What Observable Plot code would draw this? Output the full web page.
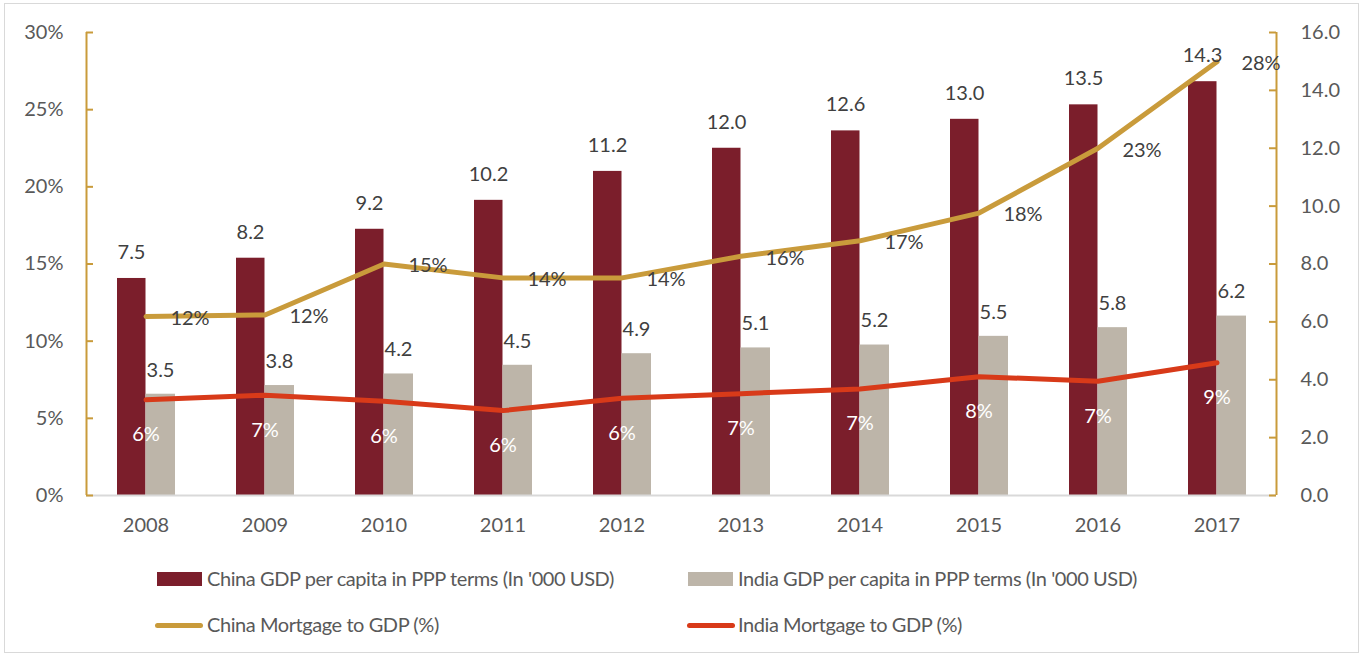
<!DOCTYPE html>
<html><head><meta charset="utf-8">
<script src="https://cdn.jsdelivr.net/npm/d3@7"></script>
<script src="https://cdn.jsdelivr.net/npm/@observablehq/plot@0.6"></script>
<style>
body{margin:0;background:#fff;font-family:Lato,sans-serif;}
#wrap{position:relative;width:1362px;height:656px;overflow:hidden;background:#fff}
#border{position:absolute;left:4px;top:3px;width:1355px;height:650px;border:1.5px solid #d9d9d9;box-sizing:border-box;pointer-events:none}
#chart{position:absolute;left:0;top:0}
.lg{position:absolute;font-family:Lato,sans-serif;font-size:20px;letter-spacing:-0.43px;color:#595959;white-space:nowrap;line-height:20px}
.sw{position:absolute}
</style></head>
<body>
<div id="wrap">
  <div id="chart"></div>
  <div id="legend"></div>
  <div id="border"></div>
</div>
<script>
const years = ["2008","2009","2010","2011","2012","2013","2014","2015","2016","2017"];
const chinaGdp = [7.5, 8.2, 9.2, 10.2, 11.2, 12.0, 12.6, 13.0, 13.5, 14.3];
const indiaGdp = [3.5, 3.8, 4.2, 4.5, 4.9, 5.1, 5.2, 5.5, 5.8, 6.2];
const chinaMortgage = [11.6, 11.7, 15.0, 14.1, 14.1, 15.5, 16.5, 18.3, 22.5, 28.1];
const indiaMortgage = [6.2, 6.5, 6.1, 5.5, 6.3, 6.6, 6.9, 7.7, 7.4, 8.6];
const leftTicks = [0, 5, 10, 15, 20, 25, 30];
const rightTicks = [0, 2, 4, 6, 8, 10, 12, 14, 16];
const seriesNames = ["China GDP per capita in PPP terms (In '000 USD)", "India GDP per capita in PPP terms (In '000 USD)", "China Mortgage to GDP (%)", "India Mortgage to GDP (%)"];

const C_CHINA = "#7b1e2b", C_INDIA = "#bdb5a9", C_GOLD = "#c99b3b", C_RED = "#d83a19";
const TXT = "#595959", LBL = "#404040";
const PCT_MAX = 30, RIGHT_MAX = 16;
const toRight = p => p * RIGHT_MAX / PCT_MAX;

const rows = years.map((y, i) => ({year: y, china: chinaGdp[i], india: indiaGdp[i], chinaM: chinaMortgage[i], indiaM: indiaMortgage[i]}));

const W = 1362, H = 545, ML = 86, MR = 86, MT = 32, MB = 50;
const frameW = W - ML - MR;
const FS = 20;

const plot = Plot.plot({
  width: W, height: H,
  marginLeft: ML, marginRight: MR, marginTop: MT, marginBottom: MB,
  style: {fontFamily: "Lato, sans-serif", fontSize: FS + "px", background: "transparent"},
  x: {type: "band", domain: years, padding: 0},
  y: {domain: [0, RIGHT_MAX]},
  marks: [
    Plot.barY(rows, {x: "year", y: "china", fill: C_CHINA, insetLeft: 31, insetRight: 59.5}),
    Plot.barY(rows, {x: "year", y: "india", fill: C_INDIA, insetLeft: 59.5, insetRight: 30}),
    Plot.ruleY([0], {stroke: "#d9d9d9", strokeWidth: 2}),
    Plot.ruleX([years[0]], {dx: -59.5, y1: 0, y2: RIGHT_MAX, stroke: C_GOLD, strokeWidth: 2}),
    Plot.ruleX([years[years.length - 1]], {dx: 59.5, y1: 0, y2: RIGHT_MAX, stroke: C_GOLD, strokeWidth: 2}),
    Plot.ruleY(leftTicks.map(toRight), {y: d => d, stroke: C_GOLD, strokeWidth: 2, insetRight: frameW - 7}),
    Plot.ruleY(rightTicks, {y: d => d, stroke: C_GOLD, strokeWidth: 2, insetLeft: frameW - 7}),
    Plot.axisY({anchor: "left", ticks: leftTicks.map(toRight), tickFormat: d => Math.round(d * PCT_MAX / RIGHT_MAX) + "%", tickSize: 0, tickPadding: 23, fontSize: FS, color: TXT, label: null}),
    Plot.axisY({anchor: "right", ticks: rightTicks, tickFormat: d => d.toFixed(1), tickSize: 0, tickPadding: 24, fontSize: FS, color: TXT, label: null}),
    Plot.axisX({tickSize: 0, tickPadding: 22, fontSize: FS, color: TXT, label: null}),
    Plot.line(rows, {x: "year", y: d => toRight(d.chinaM), stroke: C_GOLD, strokeWidth: 5, strokeLinecap: "round", strokeLinejoin: "round"}),
    Plot.line(rows, {x: "year", y: d => toRight(d.indiaM), stroke: C_RED, strokeWidth: 5, strokeLinecap: "round", strokeLinejoin: "round"}),
    Plot.text(rows, {x: "year", y: "china", text: d => d.china.toFixed(1), dx: -14.5, dy: -26, lineAnchor: "middle", fontSize: FS, fill: LBL}),
    Plot.text(rows, {x: "year", y: "india", text: d => d.india.toFixed(1), dx: 14.5, dy: -24, lineAnchor: "middle", fontSize: FS, fill: LBL}),
    Plot.text(rows, {x: "year", y: d => toRight(d.chinaM), text: d => Math.round(d.chinaM) + "%", dx: 44, dy: 2, lineAnchor: "middle", fontSize: FS, fill: LBL}),
    Plot.text(rows, {x: "year", y: d => toRight(d.indiaM), text: d => Math.round(d.indiaM) + "%", dx: 0, dy: 35, lineAnchor: "middle", fontSize: FS, fill: "#ffffff"})
  ]
});
document.getElementById("chart").appendChild(plot);

const legend = document.getElementById("legend");
const items = [
  {name: seriesNames[0], kind: "rect", color: C_CHINA, sx: 157, tx: 207, cy: 579},
  {name: seriesNames[1], kind: "rect", color: C_INDIA, sx: 688, tx: 738, cy: 579},
  {name: seriesNames[2], kind: "line", color: C_GOLD, sx: 155, tx: 207, cy: 625},
  {name: seriesNames[3], kind: "line", color: C_RED, sx: 687, tx: 738, cy: 625}
];
for (const it of items) {
  const sw = document.createElement("div");
  sw.className = "sw";
  if (it.kind === "rect") {
    Object.assign(sw.style, {left: it.sx + "px", top: (it.cy - 7) + "px", width: "45px", height: "14px", background: it.color});
  } else {
    Object.assign(sw.style, {left: it.sx + "px", top: (it.cy - 2.5) + "px", width: "48px", height: "5px", background: it.color, borderRadius: "3px"});
  }
  legend.appendChild(sw);
  const t = document.createElement("div");
  t.className = "lg";
  t.textContent = it.name;
  Object.assign(t.style, {left: it.tx + "px", top: (it.cy - 11) + "px"});
  legend.appendChild(t);
}
</script>
</body></html>
